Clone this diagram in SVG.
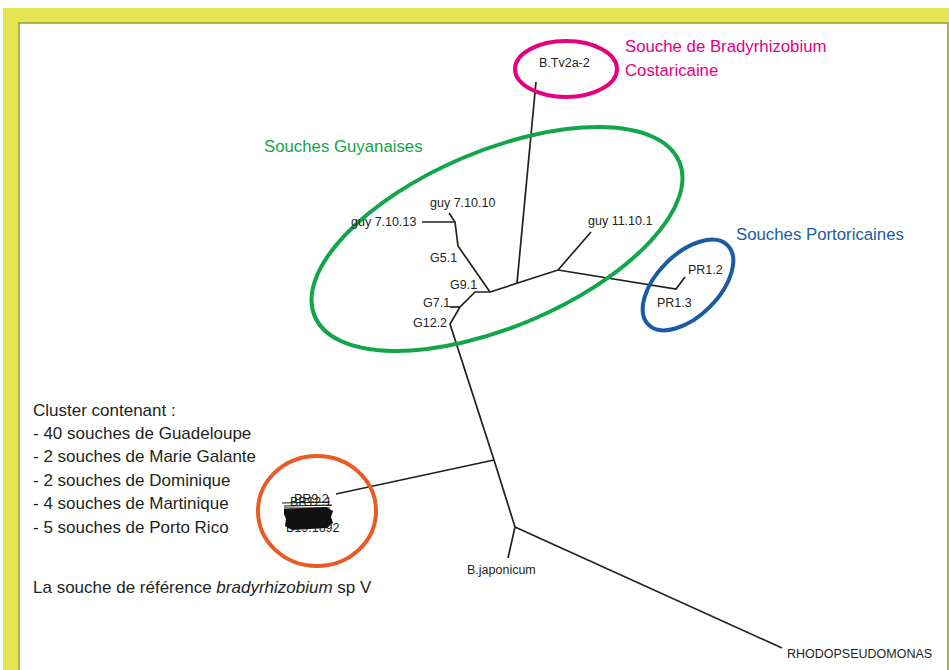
<svg xmlns="http://www.w3.org/2000/svg" width="949" height="670" viewBox="0 0 949 670">
<style>
.lbl{font-family:"Liberation Sans",Arial,sans-serif;font-size:12.5px;fill:#231f20}
.txt{font-family:"Liberation Sans",Arial,sans-serif;font-size:17px;fill:#231f20}
.ttl{font-family:"Liberation Sans",Arial,sans-serif;font-size:16.8px}
.br{fill:none;stroke:#231f20;stroke-width:1.7;stroke-linejoin:miter}
.ell{fill:none;stroke-width:4}
</style>
<rect x="0" y="0" width="949" height="670" fill="#ffffff"/>
<rect x="3" y="8" width="946" height="662" fill="#e5e553"/>
<rect x="19" y="23" width="929" height="660" fill="#ffffff" stroke="#9a9a30" stroke-width="1.5"/>

<g id="connectors">
<path class="br" d="M536,82 L517,283"/>
<path class="br" d="M490,292 L558,270"/>
<path class="br" d="M558,270 L591,232"/>
<path class="br" d="M558,270 L676,289 L685,277"/>
<path class="br" d="M490,292 L458,246 L455,222 L449,213"/>
<path class="br" d="M455,222 L422,222"/>
<path class="br" d="M490,292 L475,292 L460,307 L450,324 L494,460"/>
<path class="br" d="M460,307 L450,307"/>
<path class="br" d="M494,460 L336,494"/>
<path class="br" d="M494,460 L515,527 L508,558"/>
<path class="br" d="M515,527 L782,648"/>
</g>

<g id="costaricaine">
<ellipse class="ell" cx="566" cy="69" rx="51" ry="28" stroke="#e5007d"/>
<text class="ttl" x="625" y="52" font-size="17.2" fill="#e5007d">Souche de Bradyrhizobium</text>
<text class="ttl" x="625" y="76" font-size="17.2" fill="#e5007d">Costaricaine</text>
<text class="lbl" x="539" y="67">B.Tv2a-2</text>
</g>

<g id="guyanaises">
<ellipse class="ell" cx="497" cy="239" rx="198" ry="88" transform="rotate(-23 497 239)" stroke="#12a54a"/>
<text class="ttl" x="264" y="152" fill="#12a54a">Souches Guyanaises</text>
<text class="lbl" x="430" y="207">guy 7.10.10</text>
<text class="lbl" x="351" y="226">guy 7.10.13</text>
<text class="lbl" x="430" y="262">G5.1</text>
<text class="lbl" x="450" y="289">G9.1</text>
<text class="lbl" x="423" y="307">G7.1</text>
<text class="lbl" x="413" y="327">G12.2</text>
<text class="lbl" x="588" y="225">guy 11.10.1</text>
</g>

<g id="portoricaines">
<ellipse class="ell" cx="688" cy="285" rx="56" ry="31" transform="rotate(-45 688 285)" stroke="#1b5aa5"/>
<text class="ttl" x="736" y="240" fill="#1b5aa5">Souches Portoricaines</text>
<text class="lbl" x="688" y="274">PR1.2</text>
<text class="lbl" x="657" y="307">PR1.3</text>
</g>

<g id="cluster">
<ellipse class="ell" cx="317" cy="511" rx="59" ry="55" stroke="#ea5a24"/>
<text class="lbl" x="294" y="503">PR9.2</text>
<text class="lbl" x="290" y="506">BR12.1</text>
<text class="lbl" x="288" y="519">BR7.2</text>
<text class="lbl" x="286" y="527">B.19.66</text>
<text class="lbl" x="286" y="532">B19.1692</text>
<path d="M284,509 L326,507 L333,511 L331,517 L333,523 L327,528 L292,530 L285,526 L286,519 L284,514 Z" fill="#111"/>
<path d="M282,503 L330,502 M284,506 L332,505 M284,508 L330,508" stroke="#111" stroke-width="1.2" fill="none"/>
</g>

<g id="legend">
<text class="txt" x="33" y="416">Cluster contenant :</text>
<text class="txt" x="33" y="439">- 40 souches de Guadeloupe</text>
<text class="txt" x="33" y="462">- 2 souches de Marie Galante</text>
<text class="txt" x="33" y="486">- 2 souches de Dominique</text>
<text class="txt" x="33" y="509">- 4 souches de Martinique</text>
<text class="txt" x="33" y="533">- 5 souches de Porto Rico</text>
<text class="txt" x="33" y="593">La souche de référence <tspan font-style="italic">bradyrhizobium</tspan> sp V</text>
</g>

<g id="japonicum">
<text class="lbl" x="467" y="574">B.japonicum</text>
</g>
<g id="rhodopseudomonas">
<text class="lbl" x="787" y="658">RHODOPSEUDOMONAS</text>
</g>
</svg>
